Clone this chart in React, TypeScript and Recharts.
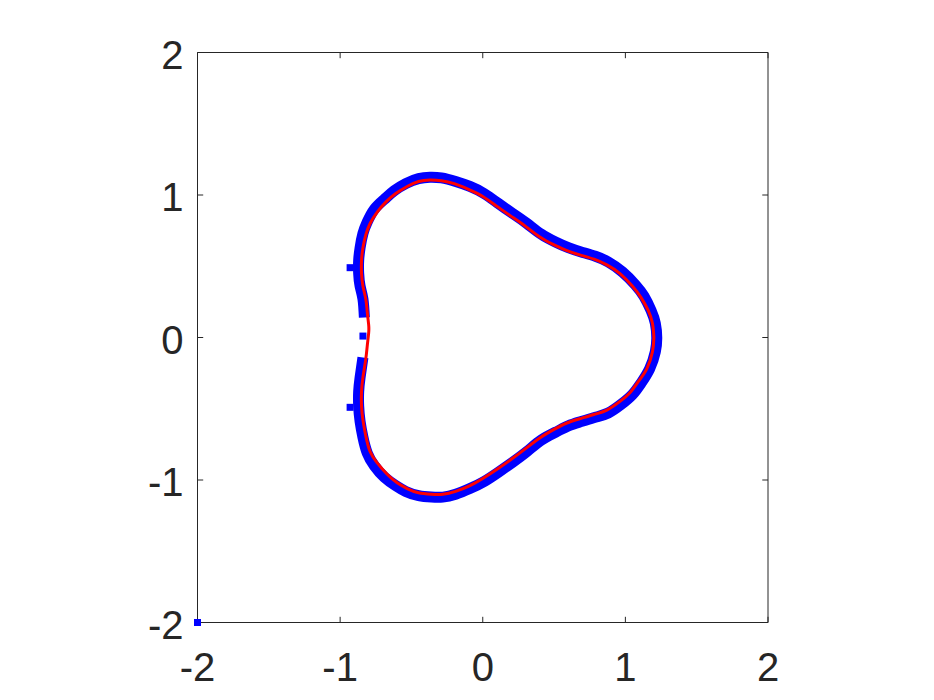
import React from "react";
import {
  ComposedChart,
  Line,
  Scatter,
  XAxis,
  YAxis,
  ReferenceArea,
  ReferenceLine,
} from "recharts";

// axis ticks (both axes)
const TICKS = [-2, -1, 0, 1, 2];

// red contour (closed loop, counter-clockwise from the right)
const RED_CURVE: [number, number][] = [
  [1.2, 0.0], [1.19, 0.1], [1.16, 0.19], [1.11, 0.28], [1.05, 0.36], [0.96, 0.45],
  [0.87, 0.51], [0.78, 0.55], [0.68, 0.58], [0.59, 0.61], [0.5, 0.65], [0.4, 0.705],
  [0.3, 0.78], [0.2, 0.85], [0.1, 0.92], [0.0, 0.99], [-0.1, 1.04], [-0.2, 1.08],
  [-0.29, 1.1], [-0.37, 1.105], [-0.45, 1.095], [-0.53, 1.06], [-0.61, 1.01], [-0.68, 0.95],
  [-0.74, 0.88], [-0.79, 0.8], [-0.82, 0.72], [-0.84, 0.63], [-0.85, 0.54], [-0.85, 0.45],
  [-0.84, 0.36], [-0.82, 0.27], [-0.81, 0.18], [-0.8, 0.09], [-0.8, 0.03], [-0.81, -0.06],
  [-0.82, -0.15], [-0.84, -0.28], [-0.85, -0.38], [-0.85, -0.48], [-0.84, -0.58], [-0.82, -0.69],
  [-0.79, -0.8], [-0.74, -0.88], [-0.67, -0.96], [-0.6, -1.02], [-0.53, -1.06], [-0.45, -1.09],
  [-0.36, -1.1], [-0.28, -1.1], [-0.19, -1.08], [-0.09, -1.04], [0.0, -0.99], [0.1, -0.925],
  [0.2, -0.855], [0.3, -0.78], [0.4, -0.705], [0.5, -0.645], [0.59, -0.6],
  [0.68, -0.57], [0.78, -0.54], [0.87, -0.51], [0.96, -0.45], [1.03, -0.39], [1.09, -0.31],
  [1.15, -0.22], [1.19, -0.1], [1.2, 0.0],
];

// blue band (open, from the upper indent round to the lower indent)
const BLUE_BAND: [number, number][] = [
  [-0.83, 0.14], [-0.84, 0.27], [-0.86, 0.36], [-0.87, 0.45], [-0.87, 0.54], [-0.86, 0.63],
  [-0.84, 0.73], [-0.81, 0.81], [-0.76, 0.9], [-0.69, 0.97], [-0.62, 1.03], [-0.54, 1.08],
  [-0.45, 1.115], [-0.37, 1.125], [-0.29, 1.12], [-0.19, 1.095], [-0.09, 1.06], [0.01, 1.01],
  [0.11, 0.94], [0.21, 0.87], [0.31, 0.8], [0.41, 0.725], [0.51, 0.67], [0.6, 0.63],
  [0.69, 0.6], [0.79, 0.57], [0.88, 0.53], [0.98, 0.46], [1.07, 0.37], [1.13, 0.29],
  [1.18, 0.19], [1.21, 0.1], [1.22, 0.0], [1.21, -0.1], [1.17, -0.22], [1.11, -0.32],
  [1.05, -0.4], [0.97, -0.47], [0.88, -0.53], [0.79, -0.56], [0.69, -0.59], [0.6, -0.62],
  [0.51, -0.665], [0.41, -0.72], [0.31, -0.8], [0.21, -0.875], [0.11, -0.945],
  [0.01, -1.01], [-0.09, -1.06], [-0.19, -1.1], [-0.28, -1.12], [-0.36, -1.12], [-0.45, -1.11],
  [-0.54, -1.08], [-0.61, -1.04], [-0.69, -0.98], [-0.76, -0.9], [-0.81, -0.81], [-0.84, -0.7],
  [-0.86, -0.59], [-0.87, -0.48], [-0.87, -0.38], [-0.86, -0.28], [-0.84, -0.14],
];

// stray blue pixels
const BLUE_DOTS: [number, number][] = [
  [-2, -2], [-0.93, 0.49], [-0.93, -0.49], [-0.84, 0.01],
];

const toRows = (pts: [number, number][]) => pts.map(([x, y]) => ({ x, y }));

const AXIS_COLOR = "#262626";
const FONT = "'Liberation Sans', Arial, Helvetica, sans-serif";

const XTick = ({ x, y, payload }: any) => (
  <text x={x} y={y + 58} textAnchor="middle" fill={AXIS_COLOR} fontSize={40} fontFamily={FONT}>
    {payload.value}
  </text>
);

const YTick = ({ x, y, payload }: any) => (
  <text x={x - 14} y={y + 16} textAnchor="end" fill={AXIS_COLOR} fontSize={40} fontFamily={FONT}>
    {payload.value}
  </text>
);

const Square = ({ cx, cy }: any) => (
  <rect x={cx - 3.5} y={cy - 3.5} width={7} height={7} fill="#0000ff" />
);

const T = 0.04; // inward tick length in data units

export default function App() {
  return (
    <div style={{ position: "absolute", left: 0, top: 0, width: 934, height: 700, background: "#fff" }}>
      <ComposedChart
        width={934}
        height={700}
        margin={{ top: 52.5, right: 166, bottom: 17.5, left: 137.5 }}
      >
        <XAxis
          type="number"
          dataKey="x"
          domain={[-2, 2]}
          ticks={TICKS}
          height={60}
          tickSize={0}
          tickMargin={0}
          tickLine={false}
          axisLine={false}
          tick={<XTick />}
        />
        <YAxis
          type="number"
          dataKey="y"
          domain={[-2, 2]}
          ticks={TICKS}
          width={60}
          tickSize={0}
          tickMargin={0}
          tickLine={false}
          axisLine={false}
          tick={<YTick />}
        />
        <ReferenceArea x1={-2} x2={2} y1={-2} y2={2} fill="none" stroke={AXIS_COLOR} strokeWidth={1} />
        {TICKS.map((t) => (
          <ReferenceLine key={"b" + t} segment={[{ x: t, y: -2 }, { x: t, y: -2 + T }]} stroke={AXIS_COLOR} />
        ))}
        {TICKS.map((t) => (
          <ReferenceLine key={"t" + t} segment={[{ x: t, y: 2 }, { x: t, y: 2 - T }]} stroke={AXIS_COLOR} />
        ))}
        {TICKS.map((t) => (
          <ReferenceLine key={"l" + t} segment={[{ x: -2, y: t }, { x: -2 + T, y: t }]} stroke={AXIS_COLOR} />
        ))}
        {TICKS.map((t) => (
          <ReferenceLine key={"r" + t} segment={[{ x: 2, y: t }, { x: 2 - T, y: t }]} stroke={AXIS_COLOR} />
        ))}
        <Line
          data={toRows(BLUE_BAND)}
          dataKey="y"
          type="natural"
          stroke="#0000ff"
          strokeWidth={11}
          strokeLinejoin="round"
          dot={false}
          activeDot={false}
          isAnimationActive={false}
        />
        <Scatter data={toRows(BLUE_DOTS)} dataKey="y" shape={<Square />} isAnimationActive={false} />
        <Line
          data={toRows(RED_CURVE)}
          dataKey="y"
          type="natural"
          stroke="#ff0000"
          strokeWidth={3}
          strokeLinejoin="round"
          dot={false}
          activeDot={false}
          isAnimationActive={false}
        />
      </ComposedChart>
    </div>
  );
}
